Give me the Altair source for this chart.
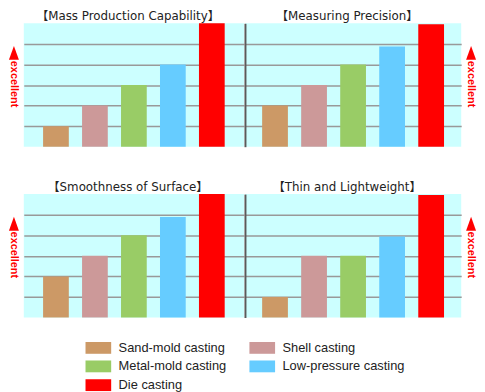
import altair as alt
import pandas as pd

categories = ["Sand-mold casting", "Shell casting", "Metal-mold casting",
              "Low-pressure casting", "Die casting"]
colors = ["#cc9966", "#cc9999", "#99cc66", "#66ccff", "#ff0000"]
titles = ["【Mass Production Capability】", "【Measuring Precision】",
          "【Smoothness of Surface】", "【Thin and Lightweight】"]
mass_production = [1, 2, 3, 4, 6]
measuring_precision = [2, 3, 4, 4.87, 5.95]
smoothness = [2, 3, 4, 4.89, 6]
thin_light = [1, 3, 3, 3.94, 5.95]
label_text = "excellent"

TRI = "M0,-1L0.72,1L-0.72,1Z"


def panel(title, values, side, width):
    df = pd.DataFrame({"method": categories, "score": values})
    pad_outer = 0.495 if side == "left" else 0.44
    bars = alt.Chart(df).mark_bar(strokeWidth=0).encode(
        x=alt.X("method:N", sort=categories, axis=None,
                scale=alt.Scale(paddingInner=0.34, paddingOuter=pad_outer)),
        y=alt.Y("score:Q",
                scale=alt.Scale(domain=[0, 6], nice=False, zero=True),
                axis=alt.Axis(values=[1, 2, 3, 4, 5], grid=True, labels=False,
                              ticks=False, domain=(side == "right"),
                              domainColor="#5a5a5a", domainWidth=2,
                              gridColor="#999999", gridWidth=1.5, title=None)),
        color=alt.Color("method:N",
                        scale=alt.Scale(domain=categories, range=colors),
                        legend=alt.Legend(
                            title=None, orient="none", legendX=69, legendY=322,
                            columns=2, direction="horizontal",
                            symbolType="M-2,-0.92H2V0.92H-2Z",
                            symbolSize=169, symbolStrokeWidth=0,
                            labelFont="Liberation Sans", labelFontSize=13,
                            labelColor="#222222", columnPadding=22,
                            rowPadding=5, labelOffset=14, padding=0)),
    )
    lx = -10 if side == "left" else width + 10
    lab = pd.DataFrame({"t": [label_text]})
    tri = alt.Chart(lab).mark_point(shape=TRI, filled=True, size=196,
                                    color="#ff0000", opacity=1).encode(
        x=alt.value(lx), y=alt.value(30))
    txt = alt.Chart(lab).mark_text(angle=90, align="left", baseline="middle",
                                   font="Liberation Sans", fontSize=11,
                                   fontWeight="bold", color="#ff0000").encode(
        x=alt.value(lx), y=alt.value(38), text="t:N")
    return alt.layer(bars, tri, txt).properties(
        width=width, height=125,
        title=alt.TitleParams(title, font="DejaVu Sans, Noto Sans CJK JP",
                              fontSize=12, fontWeight="normal",
                              color="#222222", offset=0, dx=-6,
                              anchor="middle"))


top = alt.hconcat(panel(titles[0], mass_production, "left", 223),
                  panel(titles[1], measuring_precision, "right", 219),
                  spacing=1)
bottom = alt.hconcat(panel(titles[2], smoothness, "left", 223),
                     panel(titles[3], thin_light, "right", 219),
                     spacing=1)
chart = alt.vconcat(top, bottom, spacing=35).properties(padding=0).configure_view(
    fill="#ccffff", stroke=None)

chart.save("out.html", embed_options={"renderer": "svg", "actions": False})
